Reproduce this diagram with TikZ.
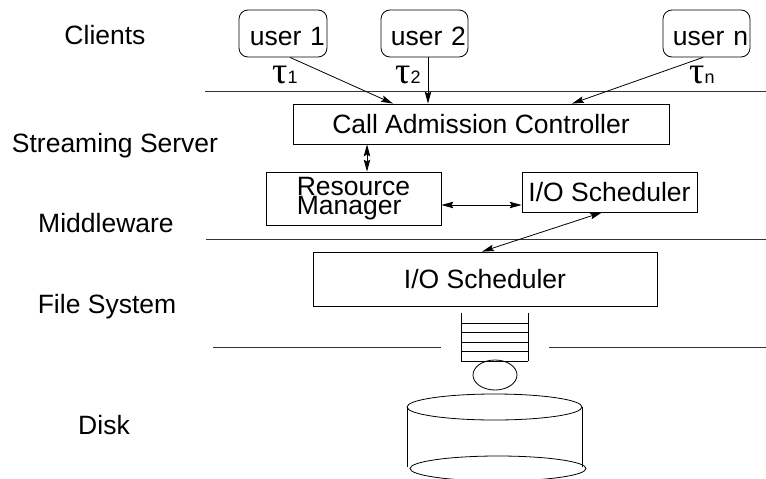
\documentclass[tikz,border=0pt]{standalone}
\usepackage{fontspec}
\setmainfont{Liberation Sans}
\newfontfamily\taufont{Liberation Serif}
\usetikzlibrary{positioning,arrows.meta,calc}

\newcommand{\taulbl}[1]{{\taufont\fontsize{38}{38}\selectfont τ}{\fontsize{18}{18}\selectfont #1}}

\begin{document}
\begin{tikzpicture}[x=1pt, y=-1pt, >={Stealth[length=12pt,width=6.5pt,inset=2pt]},
  line width=0.8pt,
  every node/.style={font=\fontsize{26.5}{30}\selectfont},
  box/.style={draw, inner sep=0pt},
  userbox/.style={draw, rounded corners=9pt, minimum height=47pt,
                  text width=84pt, text height=23pt, text depth=0pt,
                  inner xsep=2pt, inner ysep=0pt, align=right},
  layer/.style={draw=black!80, line width=0.8pt}]
  \useasboundingbox (0,0) rectangle (766,479);

  % layer names
  \node[anchor=base] (clients)    at (105,44)  {Clients};
  \node[anchor=base] (server)     at (115,152) {Streaming Server};
  \node[anchor=base] (middleware) at (106,232) {Middleware};
  \node[anchor=base] (filesys)    at (107,313) {File System};
  \node[anchor=base] (disk)       at (104,434) {Disk};

  % layer borders
  \draw[layer] (205,91) -- (766,91);
  \draw[layer] (206,239) -- (766,239);
  \draw[layer] (213,347) -- (441,347);
  \draw[layer] (549,347) -- (766,347);

  % clients
  \node[userbox] (u1) at (283,33.5)   {user 1};
  \node[userbox, text width=83pt] (u2) at (424.5,33.5) {user 2};
  \node[userbox, text width=83pt] (un) at (706.5,33.5) {user n};

  \node[anchor=base west, inner sep=0pt] (tau1) at (272,83) {\taulbl{1}};
  \node[anchor=base west, inner sep=0pt] (tau2) at (395,83) {\taulbl{2}};
  \node[anchor=base west, inner sep=0pt] (taun) at (689,83) {\taulbl{n}};

  % server and middleware
  \node[box, minimum width=376pt, minimum height=40pt] (cac) at (481,124) {Call Admission Controller};
  \node[box, minimum width=175pt, minimum height=53pt, align=left,
        font=\fontsize{26.5}{16}\selectfont] (rm) at (353.5,198.5) {Resource\\Manager};
  \node[box, minimum width=175pt, minimum height=40pt] (mio) at (609.5,192) {I/O Scheduler};

  % file system
  \node[box, minimum width=344pt, minimum height=54pt] (io) at (485,279) {I/O Scheduler};

  \draw[->] ([xshift=7pt]u1.south) -- ([xshift=-88pt]cac.north);
  \draw[->] ([xshift=3.5pt]u2.south) -- ([xshift=3.5pt]u2.south |- cac.north);
  \draw[->] ([xshift=-3.5pt]un.south) -- ([xshift=91pt]cac.north);
  \draw[<->] ([xshift=-114pt]cac.south) -- ([xshift=-114pt]cac.south |- rm.north);
  \draw[<->] ([yshift=-6.5pt]rm.east) -- ([yshift=-6.5pt]rm.east -| mio.west);
  \draw[<->] ([xshift=-7.5pt]mio.south) -- ([xshift=-3pt]io.north);

  % request queue
  \draw (461,313) -- (461,361);
  \draw (528,313) -- (528,361);
  \foreach \y in {323,332.5,342,351.5,361}
    \draw (461,\y) -- (528,\y);

  % disk head and platter
  \draw (495,375) ellipse [x radius=22, y radius=15];
  \draw (494.5,407) ellipse [x radius=87.5, y radius=13];
  \draw (407,407) -- (407,467);
  \draw (582,407) -- (582,467);
  \draw (498,468.5) ellipse [x radius=88, y radius=12.5];
\end{tikzpicture}
\end{document}
